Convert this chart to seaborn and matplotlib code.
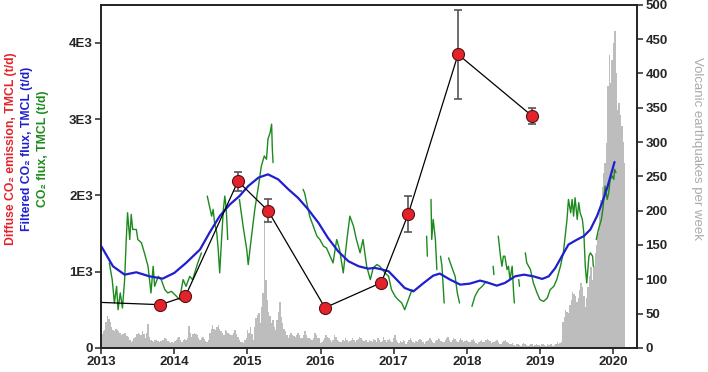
import numpy as np
import pandas as pd
import seaborn as sns
import matplotlib.pyplot as plt

# diffuse CO2 emission surveys (t/d) with error
red_year = [2012.5, 2013.81, 2014.15, 2014.87, 2015.28, 2016.06, 2016.83, 2017.20, 2017.88, 2018.89]
red_flux = [614, 566, 675, 2185, 1800, 526, 855, 1759, 3850, 3044]
red_err = [0, 20, 20, 125, 152, 15, 15, 233, 580, 105]

# filtered CO2 flux (t/d)
blue_year = [2013.00, 2013.16, 2013.32, 2013.48, 2013.66, 2013.84, 2014.00, 2014.16, 2014.35, 2014.48,
             2014.62, 2014.76, 2014.89, 2015.01, 2015.15, 2015.28, 2015.42, 2015.56, 2015.69, 2015.83,
             2015.97, 2016.10, 2016.24, 2016.38, 2016.52, 2016.65, 2016.74, 2016.81, 2016.93, 2017.04,
             2017.15, 2017.27, 2017.41, 2017.54, 2017.63, 2017.77, 2017.91, 2018.04, 2018.18, 2018.27,
             2018.41, 2018.52, 2018.66, 2018.78, 2018.91, 2019.03, 2019.12, 2019.21, 2019.30, 2019.39,
             2019.51, 2019.60, 2019.69, 2019.78, 2019.85, 2019.92, 2020.02]
blue_flux = [1333, 1070, 960, 991, 938, 908, 983, 1114, 1289, 1509,
             1728, 1882, 1991, 2122, 2233, 2276, 2210, 2079, 1969, 1816,
             1641, 1443, 1267, 1136, 1070, 1039, 1048, 1035, 1004, 895,
             785, 741, 851, 947, 974, 895, 829, 842, 882, 860,
             816, 851, 938, 960, 938, 904, 938, 1048, 1202, 1355,
             1421, 1465, 1553, 1728, 1904, 2101, 2438]

# raw CO2 flux (t/d), None = data gap
green_year = [2013.11, 2013.15, 2013.18, 2013.21, 2013.23, 2013.26, 2013.29, 2013.32, 2013.34, 2013.36,
              2013.39, 2013.41, 2013.43, 2013.48, 2013.50, 2013.55, 2013.59, 2013.64, 2013.66, 2013.68,
              2013.71, 2013.73, 2013.78, 2013.82, 2013.87, 2013.91, 2013.96, 2014.03, 2014.07, 2014.12,
              2014.16, 2014.21, 2014.25, 2014.32, 2014.37, None,
              2014.45, 2014.46, 2014.51, 2014.53, 2014.55, 2014.58, 2014.60, 2014.62, 2014.64, 2014.67,
              2014.69, 2014.71, 2014.73, None,
              2014.89, 2014.94, 2014.99, 2015.01, 2015.05, 2015.10, 2015.15, 2015.19, 2015.23, 2015.26,
              2015.28, 2015.31, 2015.33, 2015.34, 2015.35, None,
              2015.76, 2015.78, 2015.82, 2015.85, 2015.90, 2015.95, 2015.99, 2016.04, 2016.08, 2016.13,
              2016.17, 2016.22, 2016.26, 2016.31, 2016.36, 2016.40, 2016.45, 2016.49, 2016.54, 2016.58,
              2016.63, 2016.68, 2016.72, 2016.77, 2016.81, 2016.88, 2016.93, 2016.97, 2017.02, 2017.06,
              2017.11, 2017.15, 2017.20, 2017.25, None,
              2017.45, 2017.46, None,
              2017.51, 2017.52, 2017.54, 2017.57, 2017.59, None,
              2017.64, 2017.66, 2017.69, None,
              2017.75, 2017.79, 2017.84, 2017.87, 2017.90, None,
              2018.07, 2018.11, 2018.16, 2018.21, 2018.25, None,
              2018.36, 2018.37, None,
              2018.43, 2018.46, 2018.48, 2018.50, 2018.52, 2018.55, 2018.57, 2018.59, 2018.62, 2018.64,
              2018.65, None,
              2018.71, 2018.72, None,
              2018.80, 2018.82, 2018.87, 2018.91, 2018.96, 2019.00, 2019.05, 2019.10, 2019.14, 2019.19,
              2019.23, 2019.28, 2019.32, 2019.35, 2019.37, 2019.39, 2019.42, 2019.44, 2019.46, 2019.48,
              2019.51, 2019.53, 2019.55, 2019.58, 2019.60, 2019.62, 2019.64, 2019.67, 2019.69, 2019.72,
              2019.73, None,
              2019.77, 2019.80, 2019.84, 2019.86, 2019.89, 2019.92, 2019.94, 2019.96, 2019.99, 2020.01,
              2020.02, 2020.04]
green_flux = [1114, 895, 588, 807, 500, 720, 522, 895, 1378, 1772,
              1421, 1750, 1553, 1553, 1421, 1378, 1246, 1070, 895, 720,
              1070, 807, 938, 895, 763, 720, 741, 675, 632, 895,
              807, 938, 895, 1114, 1246, None,
              1991, 1947, 1728, 1816, 1641, 1509, 1289, 983, 1333, 1816,
              1991, 1816, 1421, None,
              1947, 1596, 1289, 1092, 1421, 1816, 2122, 2386, 2517, 2474,
              2737, 2825, 2934, 2605, 2430, None,
              2079, 2035, 1860, 1728, 1596, 1465, 1421, 1333, 1311, 1202,
              1114, 1421, 1289, 983, 1421, 1728, 1596, 1421, 1246, 1421,
              1070, 895, 1050, 1092, 1070, 983, 938, 763, 675, 632,
              588, 500, 632, 763, None,
              1465, 1202, None,
              1947, 1421, 1684, 1421, 1026, None,
              1202, 1070, 588, None,
              1180, 1070, 938, 720, 588, None,
              544, 675, 763, 807, 851, None,
              1070, 960, None,
              1465, 1202, 1070, 1202, 1202, 1026, 1070, 895, 1070, 720,
              588, None,
              895, 807, None,
              1246, 1114, 1026, 851, 720, 632, 609, 654, 763, 807,
              895, 1070, 1246, 1509, 1684, 1947, 1772, 1947, 1728, 1969,
              1684, 1904, 1772, 1684, 1509, 1070, 851, 1202, 1246, 1202,
              1070, None,
              1421, 1553, 1684, 1816, 2122, 1947, 2035, 2210, 2254, 2210,
              2342, 2298]

# volcanic earthquakes per week, from the first week of 2013
eq_2013 = [20, 24, 26, 38, 46, 42, 38, 30, 26, 25, 27, 26, 24, 21, 19, 20, 22, 21, 17, 16,
           12, 9, 10, 14, 16, 20, 22, 20, 19, 24, 20, 14, 22, 35, 16, 12, 10, 9, 11, 12,
           10, 8, 10, 12, 12, 14, 13, 10, 8, 7, 9, 7]
eq_2014 = [10, 12, 14, 16, 12, 9, 11, 13, 12, 14, 32, 22, 16, 20, 22, 20, 19, 15, 12, 14,
           16, 13, 10, 9, 12, 22, 28, 33, 28, 26, 30, 33, 28, 24, 21, 19, 26, 24, 22, 20,
           19, 19, 22, 26, 20, 16, 12, 9, 8, 7, 11, 14]
eq_2015 = [26, 22, 30, 20, 12, 30, 44, 48, 51, 36, 60, 80, 187, 99, 70, 52, 46, 36, 41, 30,
           26, 41, 52, 67, 45, 36, 28, 24, 18, 14, 18, 22, 19, 17, 16, 18, 22, 18, 15, 14,
           19, 24, 18, 14, 14, 13, 12, 14, 22, 18, 15, 14]
eq_2016 = [7, 9, 12, 15, 19, 16, 14, 12, 9, 11, 19, 16, 12, 10, 8, 9, 12, 10, 14, 12,
           9, 10, 12, 14, 11, 9, 12, 13, 16, 14, 12, 10, 12, 11, 9, 12, 10, 8, 13, 11,
           9, 14, 12, 8, 10, 16, 12, 9, 11, 13, 10, 8]
eq_2017 = [14, 18, 12, 9, 7, 10, 8, 12, 10, 6, 9, 11, 14, 12, 8, 7, 10, 9, 12, 13,
           11, 8, 6, 9, 10, 12, 14, 11, 9, 7, 10, 12, 15, 13, 10, 8, 9, 12, 14, 16,
           11, 9, 12, 15, 13, 10, 8, 11, 14, 12, 9, 10]
eq_2018 = [12, 10, 8, 9, 11, 13, 10, 7, 6, 8, 10, 12, 9, 8, 11, 13, 12, 10, 7, 9,
           8, 10, 11, 9, 6, 5, 8, 10, 12, 9, 7, 6, 5, 7, 4, 3, 5, 6, 4, 3,
           5, 7, 6, 4, 3, 4, 6, 5, 3, 4, 5, 4]
eq_2019 = [4, 3, 5, 6, 4, 3, 5, 4, 6, 5, 3, 4, 6, 8, 5, 7, 9,
           38, 45, 55, 52, 51, 62, 70, 82, 78, 75, 67, 72, 85, 94, 88, 75, 60, 72, 89, 105,
           118, 99, 120, 138, 150, 167, 196, 215, 235, 255, 270, 298, 381, 427, 386, 420]
eq_2020 = [444, 462, 400, 347, 357, 340, 323, 300, 269]

RED = '#e3232b'
BLUE = '#1f1fcf'
GREEN = '#1d8a1d'
GREY = '#bdbdbd'

sns.set_style('ticks')
plt.rcParams['font.family'] = ['Liberation Sans', 'DejaVu Sans']
plt.rcParams['axes.linewidth'] = 1.2

fig = plt.figure(figsize=(7.08, 3.72), dpi=100)
ax = fig.add_axes([0.143, 0.065, 0.757, 0.922])
ax2 = ax.twinx()
ax.set_zorder(ax2.get_zorder() + 1)
ax.patch.set_visible(False)

# weekly earthquake histogram on the right axis
eq = eq_2013 + eq_2014 + eq_2015 + eq_2016 + eq_2017 + eq_2018 + eq_2019 + eq_2020
edges = 2013 + np.arange(len(eq) + 1) * 7 / 365.25
hist_df = pd.DataFrame({'week': (edges[:-1] + edges[1:]) / 2, 'count': eq})
sns.histplot(data=hist_df, x='week', weights='count', bins=list(edges), color=GREY,
             alpha=1, linewidth=0, ax=ax2)

# green raw flux, broken at gaps
g = pd.DataFrame({'year': green_year, 'flux': green_flux}, dtype=float)
g['seg'] = g['flux'].isna().cumsum()
g = g.dropna()
sns.lineplot(data=g, x='year', y='flux', units='seg', estimator=None,
             color=GREEN, lw=1.0, ax=ax)

sns.lineplot(x=blue_year, y=blue_flux, color=BLUE, lw=1.6, ax=ax)

# survey points
sns.lineplot(x=red_year, y=red_flux, color='black', lw=0.9, ax=ax, sort=False)
ax.errorbar(red_year, red_flux, yerr=red_err, fmt='none', ecolor='#555555',
            elinewidth=1.2, capsize=3, capthick=1.2, zorder=4)
sns.scatterplot(x=red_year, y=red_flux, color=RED, s=75, edgecolor='#5a1010',
                linewidth=0.8, zorder=5, ax=ax)

ax.set_xlim(2013, 2020.33)
ax.set_ylim(0, 4500)
ax2.set_ylim(0, 500)
ax.set_xlabel('')
ax.set_ylabel('')
ax2.set_ylabel('')

ax.set_xticks(range(2013, 2021))
ax.set_xticklabels([str(y) for y in range(2013, 2021)], fontweight='bold', fontsize=9.5)
ax.set_yticks([0, 1000, 2000, 3000, 4000])
ax.set_yticklabels(['0', '1E3', '2E3', '3E3', '4E3'], fontweight='bold', fontsize=9.5)
ax2.set_yticks(range(0, 501, 50))
ax2.set_yticklabels([str(v) for v in range(0, 501, 50)], fontweight='bold', fontsize=9.5)
for a in (ax, ax2):
    a.tick_params(direction='out', length=4, width=1.1, pad=2)
    for s in a.spines.values():
        s.set_color('#222222')
        s.set_visible(True)

ycen = 0.60
fig.text(11 / 708, ycen, 'Diffuse CO\u2082 emission, TMCL (t/d)', rotation=90, color=RED,
         fontsize=8.8, fontweight='bold', ha='center', va='center')
fig.text(27 / 708, ycen, 'Filtered CO\u2082 flux, TMCL (t/d)', rotation=90, color=BLUE,
         fontsize=8.8, fontweight='bold', ha='center', va='center')
fig.text(43 / 708, ycen, 'CO\u2082 flux, TMCL (t/d)', rotation=90, color=GREEN,
         fontsize=8.8, fontweight='bold', ha='center', va='center')
fig.text(697 / 708, ycen, 'Volcanic earthquakes per week', rotation=270, color='#aaaaaa',
         fontsize=9.5, ha='center', va='center')

fig.savefig('out.png', dpi=100)
